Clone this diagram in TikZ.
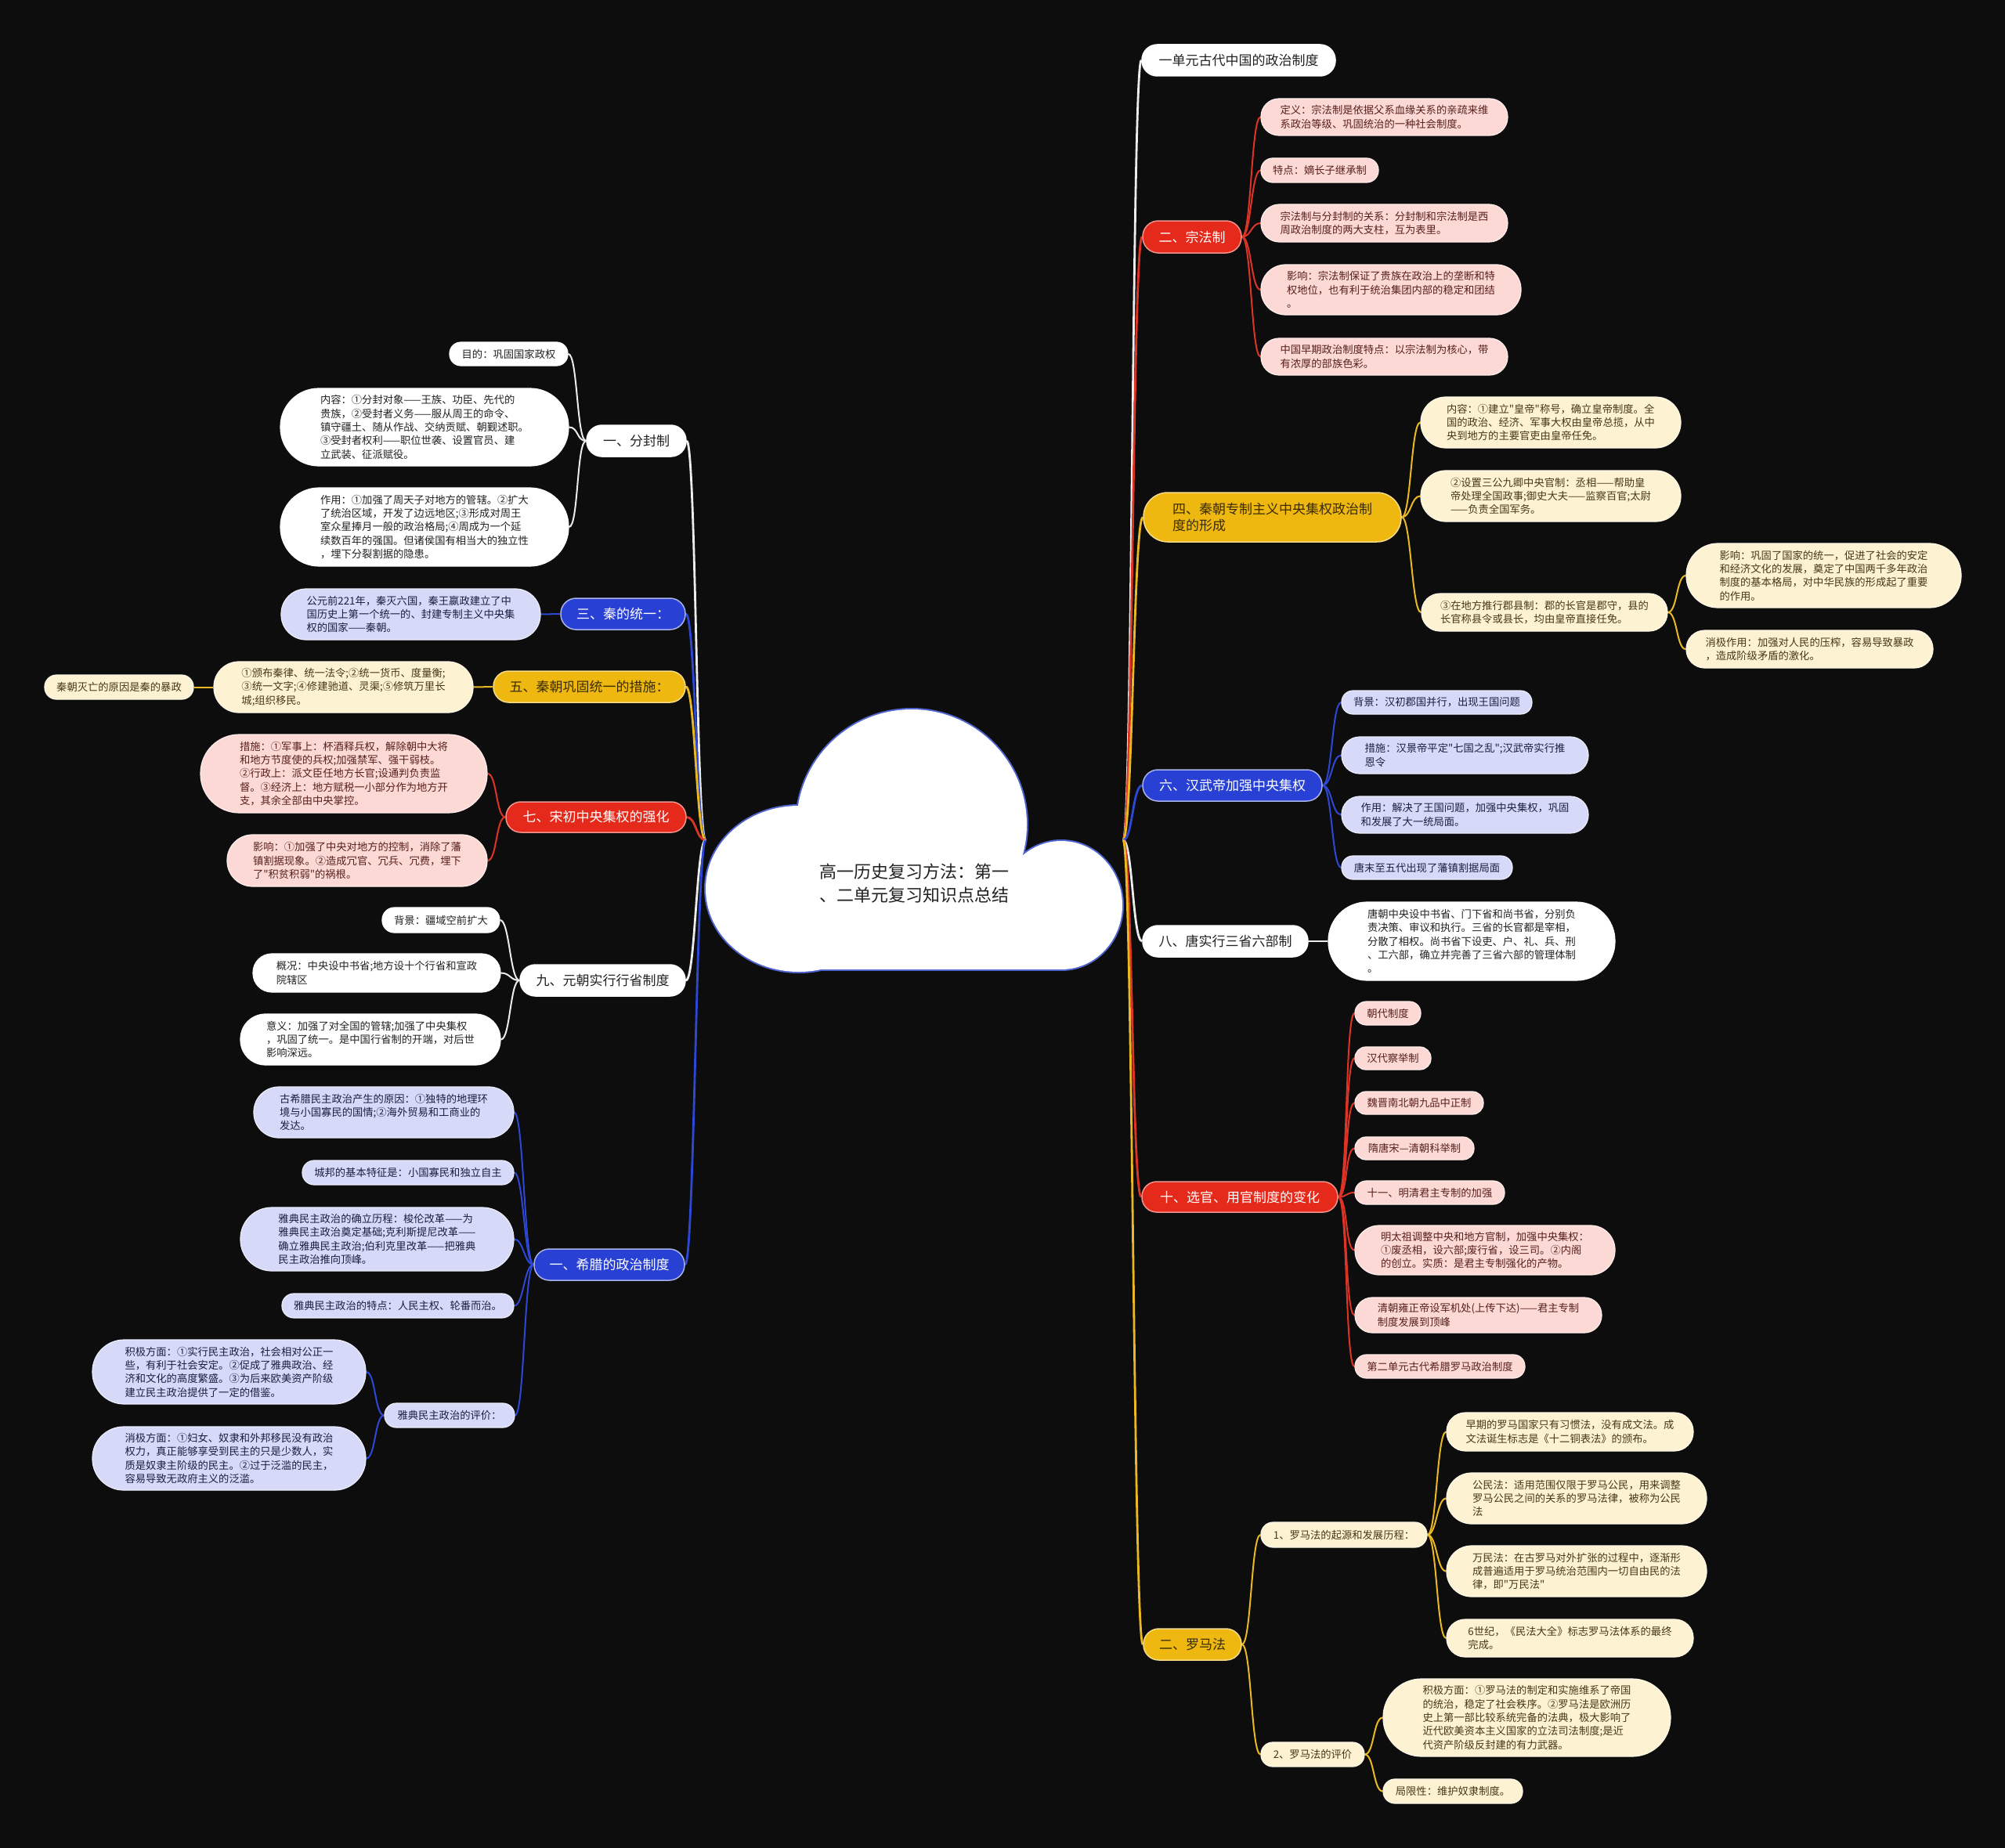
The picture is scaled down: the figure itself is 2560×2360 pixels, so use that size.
\documentclass[tikz,border=0pt]{standalone}
\usepackage{fontspec}
\newfontfamily\cjk{Noto Sans CJK SC}
\pgfdeclarelayer{background}
\pgfdeclarelayer{links}
\pgfsetlayers{background,links,main}
\definecolor{bgc}{RGB}{13,13,13}
\definecolor{wline}{RGB}{236,236,236}
\definecolor{rline}{RGB}{222,52,38}
\definecolor{yline}{RGB}{234,184,34}
\definecolor{bline}{RGB}{46,72,214}
\definecolor{redF}{RGB}{229,41,27}
\definecolor{pinkF}{RGB}{252,217,213}
\definecolor{pinkT}{RGB}{88,32,28}
\definecolor{yelF}{RGB}{238,184,16}
\definecolor{yelT}{RGB}{58,44,6}
\definecolor{creamF}{RGB}{253,242,210}
\definecolor{creamT}{RGB}{70,56,22}
\definecolor{bluF}{RGB}{40,64,212}
\definecolor{lavF}{RGB}{214,218,248}
\definecolor{lavT}{RGB}{28,30,62}
\definecolor{whtT}{RGB}{34,34,34}
\definecolor{cloudB}{RGB}{80,100,205}
\tikzset{
  leafnode/.style={font=\cjk\fontsize{13.3}{17.3}\selectfont, align=left, inner sep=0pt, line width=1.2pt},
  pinkN/.style={leafnode, fill=pinkF, text=pinkT, draw=pinkF!50!white},
  creamN/.style={leafnode, fill=creamF, text=creamT, draw=creamF!50!white},
  lavN/.style={leafnode, fill=lavF, text=lavT, draw=lavF!50!white},
  whiteN/.style={leafnode, fill=white, text=whtT, draw=white},
  topnode/.style={font=\cjk\fontsize{17}{21}\selectfont, align=left, inner sep=0pt, line width=1.5pt},
  redTop/.style={topnode, fill=redF, text=white, draw=redF!50!white},
  yelTop/.style={topnode, fill=yelF, text=yelT, draw=yelF!50!white},
  bluTop/.style={topnode, fill=bluF, text=white, draw=bluF!40!white},
  whtTop/.style={topnode, fill=white, text=whtT, draw=white},
  toR/.style={to path={.. controls +(12,0) and +(-12,0) .. (\tikztotarget)}},
  toL/.style={to path={.. controls +(-12,0) and +(12,0) .. (\tikztotarget)}},
  wl/.style={draw=wline, line width=2pt},
  rl/.style={draw=rline, line width=2pt},
  yl/.style={draw=yline, line width=2pt},
  bl/.style={draw=bline, line width=2pt},
  thick1/.style={line width=2.8pt}
}
\begin{document}
\begin{tikzpicture}[x=1pt,y=-1pt]
\begin{pgfonlayer}{background}
\fill[bgc] (0,0) rectangle (2560,2360);
\end{pgfonlayer}
\useasboundingbox (0,0) rectangle (2560,2360);

% ---------- central cloud ----------
\fill[cloudB] (1164,1053) circle (149pt);
\fill[cloudB] (1020,1135) ellipse (121pt and 108pt);
\fill[cloudB] (1355,1156) ellipse (80pt and 84pt);
\fill[cloudB] (1018,1108) rectangle (1357,1240);
\fill[white] (1164,1053) circle (147pt);
\fill[white] (1020,1135) ellipse (119pt and 106pt);
\fill[white] (1355,1156) ellipse (78pt and 82pt);
\fill[white] (1020,1110) rectangle (1355,1238);
\node[font=\cjk\fontsize{22}{29.5}\selectfont, text=whtT, align=center, inner sep=0pt] (center) at (1167,1128) {高一历史复习方法：第一\\、二单元复习知识点总结};
\coordinate (cL) at (901,1073);
\coordinate (cR) at (1434,1073);

% ---------- right side ----------
\node[whtTop, minimum width=247, minimum height=40, rounded corners=19.5] (n1dy) at (1581.5,77) {一单元古代中国的政治制度};

\node[redTop, minimum width=126, minimum height=41, rounded corners=20] (zongfa) at (1522,302.5) {二、宗法制};
\node[pinkN, minimum width=315, minimum height=47, rounded corners=23] (zf1) at (1767.5,149.5) {定义：宗法制是依据父系血缘关系的亲疏来维\\系政治等级、巩固统治的一种社会制度。};
\node[pinkN, minimum width=150, minimum height=31, rounded corners=15] (zf2) at (1685,217.5) {特点：嫡长子继承制};
\node[pinkN, minimum width=315, minimum height=48, rounded corners=23.5] (zf3) at (1767.5,285) {宗法制与分封制的关系：分封制和宗法制是西\\周政治制度的两大支柱，互为表里。};
\node[pinkN, minimum width=332, minimum height=64, rounded corners=31.5] (zf4) at (1776,370) {影响：宗法制保证了贵族在政治上的垄断和特\\权地位，也有利于统治集团内部的稳定和团结\\。};
\node[pinkN, minimum width=315, minimum height=47, rounded corners=23] (zf5) at (1767.5,455.5) {中国早期政治制度特点：以宗法制为核心，带\\有浓厚的部族色彩。};

\node[yelTop, minimum width=329, minimum height=63, rounded corners=31] (qin) at (1624.5,660.5) {四、秦朝专制主义中央集权政治制\\度的形成};
\node[creamN, minimum width=332, minimum height=65, rounded corners=32] (qc1) at (1980,539.5) {内容：①建立"皇帝"称号，确立皇帝制度。全\\国的政治、经济、军事大权由皇帝总揽，从中\\央到地方的主要官吏由皇帝任免。};
\node[creamN, minimum width=332, minimum height=65, rounded corners=32] (qc2) at (1980,633.5) {②设置三公九卿中央官制：丞相——帮助皇\\帝处理全国政事;御史大夫——监察百官;太尉\\——负责全国军务。};
\node[creamN, minimum width=314, minimum height=48, rounded corners=23.5] (qc3) at (1972,782) {③在地方推行郡县制：郡的长官是郡守，县的\\长官称县令或县长，均由皇帝直接任免。};
\node[creamN, minimum width=351, minimum height=82, rounded corners=40.5] (qc31) at (2328.5,735) {影响：巩固了国家的统一，促进了社会的安定\\和经济文化的发展，奠定了中国两千多年政治\\制度的基本格局，对中华民族的形成起了重要\\的作用。};
\node[creamN, minimum width=315, minimum height=48, rounded corners=23.5] (qc32) at (2310.5,829) {消极作用：加强对人民的压榨，容易导致暴政\\，造成阶级矛盾的激化。};

\node[bluTop, minimum width=229, minimum height=40, rounded corners=19.5] (han) at (1573.5,1003) {六、汉武帝加强中央集权};
\node[lavN, minimum width=243, minimum height=30, rounded corners=14.5] (hw1) at (1834.5,897) {背景：汉初郡国并行，出现王国问题};
\node[lavN, minimum width=315, minimum height=47, rounded corners=23] (hw2) at (1870.5,964.5) {措施：汉景帝平定"七国之乱";汉武帝实行推\\恩令};
\node[lavN, minimum width=315, minimum height=47, rounded corners=23] (hw3) at (1870.5,1040.5) {作用：解决了王国问题，加强中央集权，巩固\\和发展了大一统局面。};
\node[lavN, minimum width=218, minimum height=30, rounded corners=14.5] (hw4) at (1822,1108) {唐末至五代出现了藩镇割据局面};

\node[whtTop, minimum width=211, minimum height=40, rounded corners=19.5] (tang) at (1564.5,1202) {八、唐实行三省六部制};
\node[whiteN, minimum width=366, minimum height=100, rounded corners=49.5] (tang1) at (1879,1202) {唐朝中央设中书省、门下省和尚书省，分别负\\责决策、审议和执行。三省的长官都是宰相，\\分散了相权。尚书省下设吏、户、礼、兵、刑\\、工六部，确立并完善了三省六部的管理体制\\。};

\node[redTop, minimum width=250, minimum height=39, rounded corners=19] (xuan) at (1583,1528.5) {十、选官、用官制度的变化};
\node[pinkN, minimum width=84, minimum height=30, rounded corners=14.5] (xg1) at (1772,1294) {朝代制度};
\node[pinkN, minimum width=97, minimum height=29, rounded corners=14] (xg2) at (1778.5,1351.5) {汉代察举制};
\node[pinkN, minimum width=164, minimum height=29, rounded corners=14] (xg3) at (1812,1408.5) {魏晋南北朝九品中正制};
\node[pinkN, minimum width=152, minimum height=29, rounded corners=14] (xg4) at (1806,1466.5) {隋唐宋—清朝科举制};
\node[pinkN, minimum width=191, minimum height=30, rounded corners=14.5] (xg5) at (1825.5,1523) {十一、明清君主专制的加强};
\node[pinkN, minimum width=332, minimum height=63, rounded corners=31] (xg6) at (1896,1596.5) {明太祖调整中央和地方官制，加强中央集权：\\①废丞相，设六部;废行省，设三司。②内阁\\的创立。实质：是君主专制强化的产物。};
\node[pinkN, minimum width=315, minimum height=45, rounded corners=22] (xg7) at (1887.5,1679.5) {清朝雍正帝设军机处(上传下达)——君主专制\\制度发展到顶峰};
\node[pinkN, minimum width=217, minimum height=30, rounded corners=14.5] (xg8) at (1838.5,1745) {第二单元古代希腊罗马政治制度};

\node[yelTop, minimum width=125, minimum height=40, rounded corners=19.5] (luoma) at (1522.5,2100) {二、罗马法};
\node[creamN, minimum width=212, minimum height=32, rounded corners=15.5] (lm1) at (1716,1960) {1、罗马法的起源和发展历程：};
\node[creamN, minimum width=315, minimum height=49, rounded corners=24] (lm11) at (2004.5,1828.5) {早期的罗马国家只有习惯法，没有成文法。成\\文法诞生标志是《十二铜表法》的颁布。};
\node[creamN, minimum width=332, minimum height=65, rounded corners=32] (lm12) at (2013,1913.5) {公民法：适用范围仅限于罗马公民，用来调整\\罗马公民之间的关系的罗马法律，被称为公民\\法};
\node[creamN, minimum width=332, minimum height=65, rounded corners=32] (lm13) at (2013,2006.5) {万民法：在古罗马对外扩张的过程中，逐渐形\\成普遍适用于罗马统治范围内一切自由民的法\\律，即"万民法"};
\node[creamN, minimum width=315, minimum height=48, rounded corners=23.5] (lm14) at (2004.5,2092) {6世纪，《民法大全》标志罗马法体系的最终\\完成。};
\node[creamN, minimum width=132, minimum height=31, rounded corners=15] (lm2) at (1676,2240.5) {2、罗马法的评价};
\node[creamN, minimum width=367, minimum height=99, rounded corners=49] (lm21) at (1949.5,2193.5) {积极方面：①罗马法的制定和实施维系了帝国\\的统治，稳定了社会秩序。②罗马法是欧洲历\\史上第一部比较系统完备的法典，极大影响了\\近代欧美资本主义国家的立法司法制度;是近\\代资产阶级反封建的有力武器。};
\node[creamN, minimum width=178, minimum height=31, rounded corners=15] (lm22) at (1855,2287.5) {局限性：维护奴隶制度。};

% ---------- left side ----------
\node[whtTop, minimum width=127, minimum height=40, rounded corners=19.5] (fenfeng) at (812.5,563) {一、分封制};
\node[whiteN, minimum width=151, minimum height=30, rounded corners=14.5] (ff1) at (649.5,452) {目的：巩固国家政权};
\node[whiteN, minimum width=368, minimum height=99, rounded corners=49] (ff2) at (542,545.5) {内容：①分封对象——王族、功臣、先代的\\贵族，②受封者义务——服从周王的命令、\\镇守疆土、随从作战、交纳贡赋、朝觐述职。\\③受封者权利——职位世袭、设置官员、建\\立武装、征派赋役。};
\node[whiteN, minimum width=368, minimum height=100, rounded corners=49.5] (ff3) at (542,673) {作用：①加强了周天子对地方的管辖。②扩大\\了统治区域，开发了边远地区;③形成对周王\\室众星捧月一般的政治格局;④周成为一个延\\续数百年的强国。但诸侯国有相当大的独立性\\，埋下分裂割据的隐患。};

\node[bluTop, minimum width=159, minimum height=40, rounded corners=19.5] (qintong) at (795.5,784) {三、秦的统一：};
\node[lavN, minimum width=331, minimum height=65, rounded corners=32] (qt1) at (524.5,784.5) {公元前221年，秦灭六国，秦王嬴政建立了中\\国历史上第一个统一的、封建专制主义中央集\\权的国家——秦朝。};

\node[yelTop, minimum width=245, minimum height=40, rounded corners=19.5] (gonggu) at (752.5,877) {五、秦朝巩固统一的措施：};
\node[creamN, minimum width=331, minimum height=65, rounded corners=32] (gg1) at (438.5,877.5) {①颁布秦律、统一法令;②统一货币、度量衡;\\③统一文字;④修建驰道、灵渠;⑤修筑万里长\\城;组织移民。};
\node[creamN, minimum width=190, minimum height=31, rounded corners=15] (gg11) at (152,877.5) {秦朝灭亡的原因是秦的暴政};

\node[redTop, minimum width=230, minimum height=39, rounded corners=19] (songchu) at (761,1043.5) {七、宋初中央集权的强化};
\node[pinkN, minimum width=366, minimum height=100, rounded corners=49.5] (sc1) at (439,988) {措施：①军事上：杯酒释兵权，解除朝中大将\\和地方节度使的兵权;加强禁军、强干弱枝。\\②行政上：派文臣任地方长官;设通判负责监\\督。③经济上：地方赋税一小部分作为地方开\\支，其余全部由中央掌控。};
\node[pinkN, minimum width=332, minimum height=66, rounded corners=32.5] (sc2) at (456,1099) {影响：①加强了中央对地方的控制，消除了藩\\镇割据现象。②造成冗官、冗兵、冗费，埋下\\了"积贫积弱"的祸根。};

\node[whtTop, minimum width=211, minimum height=40, rounded corners=19.5] (yuan) at (769.5,1252) {九、元朝实行行省制度};
\node[whiteN, minimum width=150, minimum height=32, rounded corners=15.5] (yc1) at (563,1175) {背景：疆域空前扩大};
\node[whiteN, minimum width=316, minimum height=49, rounded corners=24] (yc2) at (481,1242.5) {概况：中央设中书省;地方设十个行省和宣政\\院辖区};
\node[whiteN, minimum width=332, minimum height=65, rounded corners=32] (yc3) at (473,1327.5) {意义：加强了对全国的管辖;加强了中央集权\\，巩固了统一。是中国行省制的开端，对后世\\影响深远。};

\node[bluTop, minimum width=192, minimum height=40, rounded corners=19.5] (xila) at (778,1615) {一、希腊的政治制度};
\node[lavN, minimum width=332, minimum height=65, rounded corners=32] (xl1) at (490,1420.5) {古希腊民主政治产生的原因：①独特的地理环\\境与小国寡民的国情;②海外贸易和工商业的\\发达。};
\node[lavN, minimum width=270, minimum height=31, rounded corners=15] (xl2) at (521,1497.5) {城邦的基本特征是：小国寡民和独立自主};
\node[lavN, minimum width=349, minimum height=81, rounded corners=40] (xl3) at (481.5,1582.5) {雅典民主政治的确立历程：梭伦改革——为\\雅典民主政治奠定基础;克利斯提尼改革——\\确立雅典民主政治;伯利克里改革——把雅典\\民主政治推向顶峰。};
\node[lavN, minimum width=296, minimum height=31, rounded corners=15] (xl4) at (508,1667.5) {雅典民主政治的特点：人民主权、轮番而治。};
\node[lavN, minimum width=166, minimum height=31, rounded corners=15] (xl5) at (574,1807.5) {雅典民主政治的评价：};
\node[lavN, minimum width=349, minimum height=82, rounded corners=40.5] (xl51) at (292.5,1752) {积极方面：①实行民主政治，社会相对公正一\\些，有利于社会安定。②促成了雅典政治、经\\济和文化的高度繁盛。③为后来欧美资产阶级\\建立民主政治提供了一定的借鉴。};
\node[lavN, minimum width=349, minimum height=81, rounded corners=40] (xl52) at (292.5,1862.5) {消极方面：①妇女、奴隶和外邦移民没有政治\\权力，真正能够享受到民主的只是少数人，实\\质是奴隶主阶级的民主。②过于泛滥的民主，\\容易导致无政府主义的泛滥。};

% ---------- connectors ----------
\begin{pgfonlayer}{links}
% right top level
\draw[wl, thick1] (cR) to[toR] (n1dy.west);
\draw[rl, thick1] (cR) to[toR] (zongfa.west);
\draw[yl, thick1] (cR) to[toR] (qin.west);
\draw[bl, thick1] (cR) to[toR] (han.west);
\draw[wl, thick1] (cR) to[toR] (tang.west);
\draw[rl, thick1] (cR) to[toR] (xuan.west);
\draw[yl, thick1] (cR) to[toR] (luoma.west);
% left top level
\draw[wl, thick1] (cL) to[toL] (fenfeng.east);
\draw[bl, thick1] (cL) to[toL] (qintong.east);
\draw[yl, thick1] (cL) to[toL] (gonggu.east);
\draw[rl, thick1] (cL) to[toL] (songchu.east);
\draw[wl, thick1] (cL) to[toL] (yuan.east);
\draw[bl, thick1] (cL) to[toL] (xila.east);
% zongfa
\foreach \c in {zf1,zf2,zf3,zf4,zf5} \draw[rl] (zongfa.east) to[toR] (\c.west);
% qin
\foreach \c in {qc1,qc2,qc3} \draw[yl] (qin.east) to[toR] (\c.west);
\foreach \c in {qc31,qc32} \draw[yl] (qc3.east) to[toR] (\c.west);
% han
\foreach \c in {hw1,hw2,hw3,hw4} \draw[bl] (han.east) to[toR] (\c.west);
% tang
\draw[wl] (tang.east) -- (tang1.west);
% xuan
\foreach \c in {xg1,xg2,xg3,xg4,xg5,xg6,xg7,xg8} \draw[rl] (xuan.east) to[toR] (\c.west);
% luoma
\foreach \c in {lm1,lm2} \draw[yl] (luoma.east) to[toR] (\c.west);
\foreach \c in {lm11,lm12,lm13,lm14} \draw[yl] (lm1.east) to[toR] (\c.west);
\foreach \c in {lm21,lm22} \draw[yl] (lm2.east) to[toR] (\c.west);
% left children
\foreach \c in {ff1,ff2,ff3} \draw[wl] (fenfeng.west) to[toL] (\c.east);
\draw[bl] (qintong.west) -- (qt1.east);
\draw[yl] (gonggu.west) -- (gg1.east);
\draw[yl] (gg1.west) -- (gg11.east);
\foreach \c in {sc1,sc2} \draw[rl] (songchu.west) to[toL] (\c.east);
\foreach \c in {yc1,yc2,yc3} \draw[wl] (yuan.west) to[toL] (\c.east);
\foreach \c in {xl1,xl2,xl3,xl4,xl5} \draw[bl] (xila.west) to[toL] (\c.east);
\foreach \c in {xl51,xl52} \draw[bl] (xl5.west) to[toL] (\c.east);
\end{pgfonlayer}
\end{tikzpicture}
\end{document}
